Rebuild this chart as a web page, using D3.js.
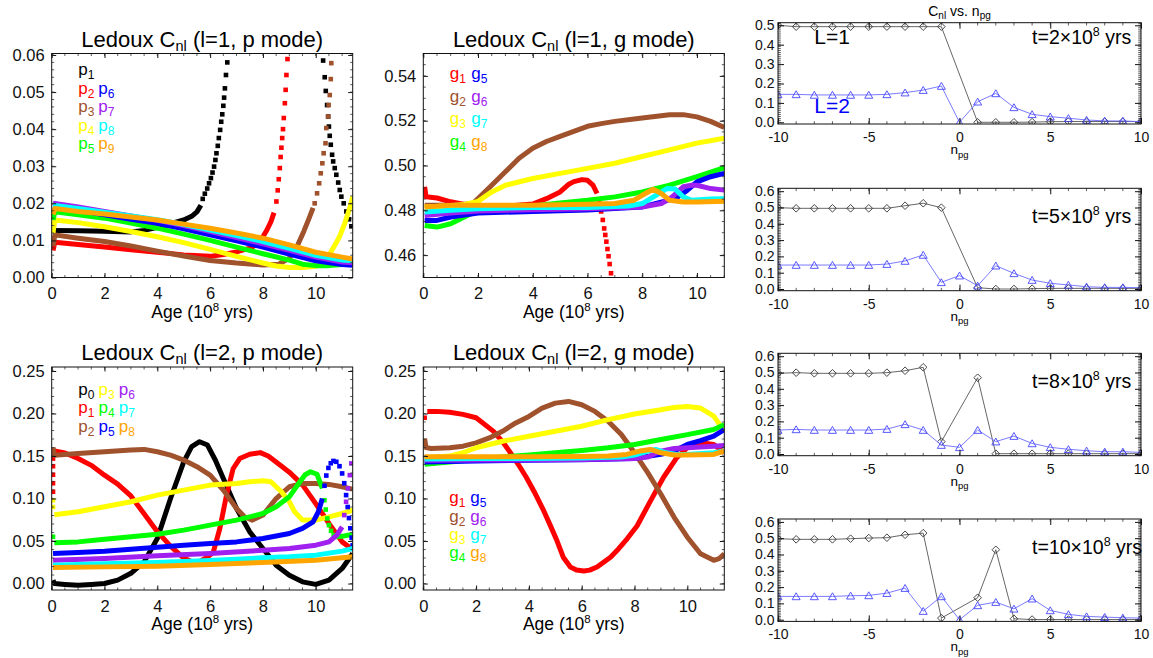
<!DOCTYPE html>
<html>
<head>
<meta charset="utf-8">
<script src="https://cdn.jsdelivr.net/npm/d3@7"></script>
<style>
  body { margin: 0; background: #fff; }
  svg { display: block; font-family: "Liberation Sans", Arial, Helvetica, sans-serif; }
</style>
</head>
<body>
<svg id="fig" width="1153" height="658"></svg>
<script>
// ---------------- tick values ----------------
const ageTicks = [0, 2, 4, 6, 8, 10];
const l1pTicks = [0.00, 0.01, 0.02, 0.03, 0.04, 0.05, 0.06];
const l1gTicks = [0.46, 0.48, 0.50, 0.52, 0.54];
const l2Ticks = [0.00, 0.05, 0.10, 0.15, 0.20, 0.25];
const npgTicks = [-10, -5, 0, 5, 10];
const cTicksFirst = [0.0, 0.1, 0.2, 0.3, 0.4, 0.5];
const cTicks = [0.0, 0.1, 0.2, 0.3, 0.4, 0.5, 0.6];

// ---------------- mode colours ----------------
const colors = {
  black: "#000000", red: "#ff0000", brown: "#a0522d", yellow: "#ffff00",
  green: "#00ff00", blue: "#0000ff", purple: "#a020f0", cyan: "#00ffff", orange: "#ffa500"
};

// ---------------- l=1 p modes: [age (1e8 yr), C_nl] ----------------
const l1p1 = [[0.05,0.0127],[1,0.0126],[2,0.0125],[3,0.0123],[3.5,0.0127],[4,0.0135],[4.5,0.0145],[5,0.0155],[5.3,0.0165],[5.5,0.0177],[5.65,0.0195]];
const l1p1Dots = [[5.72,0.0212],[5.8,0.0226],[5.89,0.0240],[5.96,0.0254],[6.03,0.0268],[6.09,0.0283],[6.15,0.0299],[6.2,0.0317],[6.24,0.0335],[6.29,0.0355],[6.33,0.0376],[6.38,0.0398],[6.42,0.042],[6.46,0.044],[6.5,0.0463],[6.53,0.0485],[6.56,0.051],[6.6,0.0546],[6.65,0.058],
  [10.28,0.0585],[10.34,0.054],[10.38,0.0503],[10.43,0.0465],[10.47,0.0434],[10.5,0.0407],[10.53,0.0382],[10.57,0.0358],[10.62,0.0331],[10.66,0.0313],[10.72,0.0295],[10.78,0.0277],[10.85,0.0256],[10.91,0.0236],[10.97,0.0218],[11.06,0.020],[11.16,0.0178],[11.26,0.0157],[11.35,0.0138]];
const l1p2 = [[0.05,0.0073],[0.12,0.0095],[1,0.0089],[2,0.0082],[3,0.0075],[4,0.0068],[5,0.0061],[6,0.0057],[6.5,0.0062],[7,0.0069],[7.5,0.0079],[7.8,0.009],[8.0,0.011],[8.15,0.0128],[8.3,0.015],[8.42,0.0175]];
const l1p2Dots = [[8.51,0.0205],[8.56,0.0235],[8.6,0.0265],[8.64,0.0295],[8.67,0.0325],[8.7,0.035],[8.73,0.0376],[8.76,0.040],[8.79,0.043],[8.83,0.047],[8.86,0.0506],[8.89,0.0546],[8.93,0.0589]];
const l1p3 = [[0.05,0.0085],[0.12,0.0115],[1,0.0106],[2,0.0097],[3,0.0085],[4,0.0071],[5,0.0058],[6,0.0046],[7,0.0039],[8,0.0034],[8.6,0.0036],[9,0.0052],[9.3,0.0085],[9.55,0.0125],[9.75,0.016],[9.9,0.0188]];
const l1p3Dots = [[9.96,0.020],[10.05,0.0227],[10.13,0.0254],[10.19,0.0281],[10.25,0.0308],[10.3,0.0335],[10.37,0.0362],[10.4,0.0403],[10.47,0.0434],[10.49,0.0465],[10.53,0.0492],[10.57,0.0535],[10.59,0.0578]];
const l1p4 = [[0.05,0.012],[0.12,0.0155],[1,0.0148],[2,0.0137],[3,0.0124],[4,0.011],[5,0.0094],[6,0.0076],[7,0.0057],[8,0.0039],[8.5,0.0031],[9,0.0027],[9.5,0.0027],[10,0.003],[10.3,0.0042],[10.5,0.006],[10.7,0.0084],[10.9,0.011],[11.1,0.0146],[11.3,0.019],[11.4,0.0218]];
const l1p5 = [[0.05,0.0155],[0.12,0.0177],[1,0.0169],[2,0.016],[3,0.0147],[4,0.0133],[5,0.0117],[6,0.010],[7,0.0082],[8,0.0064],[9,0.0047],[9.5,0.0036],[10,0.0032],[10.5,0.0032],[11,0.0035],[11.4,0.0046]];
const l1p6 = [[0.05,0.0192],[1,0.0181],[2,0.0169],[3,0.0157],[4,0.0146],[5,0.0131],[6,0.0115],[7,0.0099],[8,0.0082],[9,0.0063],[10,0.0045],[11,0.0035],[11.4,0.0033]];
const l1p7 = [[0.05,0.0200],[1,0.019],[2,0.0178],[3,0.0166],[4,0.0154],[5,0.014],[6,0.0124],[7,0.0108],[8,0.0091],[9,0.0073],[10,0.0055],[11,0.0042],[11.4,0.004]];
const l1p8 = [[0.05,0.0195],[1,0.0186],[2,0.0176],[3,0.0166],[4,0.0156],[5,0.0143],[6,0.0128],[7,0.0113],[8,0.0097],[9,0.0079],[10,0.006],[11,0.0047],[11.4,0.0045]];
const l1p9 = [[0.05,0.017],[0.12,0.0186],[1,0.0178],[2,0.0171],[3,0.0163],[4,0.0155],[5,0.0144],[6,0.0133],[7,0.012],[8,0.0106],[9,0.0088],[10,0.0068],[11,0.0055],[11.4,0.005]];

// ---------------- l=1 g modes ----------------
const l1g1 = [[0.05,0.4905],[0.1,0.486],[0.5,0.4855],[1,0.4838],[1.5,0.4826],[2,0.482],[3,0.4818],[4,0.4828],[4.5,0.4852],[5,0.4882],[5.3,0.4915],[5.5,0.4928],[5.8,0.4937],[6,0.4934],[6.2,0.4912],[6.35,0.4875]];
const l1g1Dots = [[6.42,0.4835],[6.5,0.4795],[6.56,0.4757],[6.61,0.4719],[6.65,0.469],[6.69,0.466],[6.73,0.4627],[6.77,0.4595],[6.81,0.456],[6.86,0.4519]];
const l1g2 = [[0.05,0.4823],[1,0.4822],[1.8,0.483],[2,0.4852],[2.5,0.4912],[3,0.4972],[3.5,0.5032],[4,0.5077],[4.5,0.5107],[5,0.513],[5.5,0.5152],[6,0.5175],[6.5,0.5187],[7,0.5197],[8,0.5212],[9,0.5227],[9.5,0.5227],[10,0.5217],[10.5,0.5197],[11,0.517]];
const l1g3 = [[0.05,0.4815],[1,0.482],[1.5,0.4826],[2,0.484],[2.5,0.4882],[3,0.4912],[4,0.4942],[5,0.4965],[6,0.4987],[7,0.501],[8,0.504],[9,0.507],[10,0.510],[11,0.5122]];
const l1g4 = [[0.05,0.4732],[0.5,0.4725],[1,0.474],[1.5,0.477],[2,0.480],[3,0.4812],[4,0.4819],[5,0.4833],[6,0.4845],[7,0.486],[8,0.4882],[9,0.4912],[10,0.495],[11,0.499]];
const l1g5 = [[0.05,0.4755],[0.5,0.4755],[1,0.477],[2,0.4788],[4,0.4795],[6,0.4801],[8,0.4815],[8.8,0.484],[9.3,0.486],[9.6,0.4885],[10,0.4927],[10.5,0.495],[11,0.4965]];
const l1g6 = [[0.05,0.4777],[1,0.4788],[2,0.4797],[4,0.4803],[6,0.4807],[8,0.4815],[8.7,0.483],[9.1,0.486],[9.5,0.4905],[9.8,0.4912],[10,0.4912],[10.5,0.4897],[11,0.489]];
const l1g7 = [[0.05,0.4792],[1,0.480],[2,0.4807],[4,0.4812],[6,0.4812],[7.5,0.4819],[8,0.483],[8.5,0.4867],[8.9,0.4897],[9.2,0.4895],[9.5,0.486],[9.8,0.4845],[10.5,0.485],[11,0.4852]];
const l1g8 = [[0.05,0.4815],[1,0.4822],[2,0.4822],[4,0.4822],[6,0.4827],[7,0.483],[7.7,0.4845],[8,0.4867],[8.4,0.4894],[8.7,0.4875],[9,0.4845],[9.5,0.4837],[10,0.4837],[11,0.484]];

// ---------------- l=2 p modes ----------------
const l2p0 = [[0.05,0.004],[0.1,0.0],[0.5,-0.001],[1,-0.002],[1.5,-0.001],[2,0.0],[2.5,0.004],[3,0.012],[3.5,0.0255],[4,0.053],[4.5,0.100],[5,0.143],[5.3,0.161],[5.6,0.1668],[5.9,0.1629],[6.2,0.145],[6.5,0.1236],[7,0.0883],[7.5,0.0608],[8,0.0412],[8.5,0.0216],[9,0.0098],[9.5,0.002],[10,-0.001],[10.5,0.0039],[11,0.0177],[11.4,0.0353]];
const l2p1 = [[0.1,0.156],[0.5,0.1535],[1,0.147],[1.5,0.139],[2,0.1275],[2.5,0.117],[3,0.103],[3.5,0.082],[4,0.061],[4.5,0.044],[5,0.030],[5.3,0.026],[5.6,0.026],[5.9,0.031],[6.12,0.037],[6.37,0.065],[6.62,0.104],[6.87,0.135],[7.12,0.147],[7.5,0.152],[7.9,0.154],[8.2,0.150],[8.5,0.143],[9,0.131],[9.5,0.116],[10,0.094],[10.5,0.0707],[11,0.049],[11.4,0.040]];
const l2p1Dots = [[0.05,0.108],[0.05,0.118],[0.05,0.128],[0.05,0.138],[0.05,0.147]];
const l2p2 = [[0.05,0.160],[0.1,0.151],[1,0.153],[2,0.155],[3,0.157],[3.5,0.1578],[4,0.155],[4.5,0.151],[5,0.1452],[5.5,0.1374],[6,0.1275],[6.5,0.1099],[7,0.0883],[7.3,0.0785],[7.6,0.0746],[8,0.0805],[8.5,0.100],[9,0.1138],[9.5,0.1177],[10,0.1177],[10.5,0.1166],[11,0.1138],[11.4,0.111]];
const l2p3 = [[0.1,0.081],[1,0.0844],[2,0.0903],[3,0.0962],[4,0.104],[5,0.1099],[6,0.1158],[7,0.1177],[7.5,0.1197],[8,0.1209],[8.3,0.1197],[8.7,0.1079],[9,0.0962],[9.2,0.0844],[9.5,0.0746],[10,0.0746],[10.5,0.0785],[11,0.0824],[11.4,0.0863]];
const l2p3Dots = [[0.05,0.098],[0.05,0.090]];
const l2p4 = [[0.1,0.048],[1,0.049],[2,0.0522],[3,0.055],[4,0.058],[5,0.0628],[6,0.0687],[7,0.0746],[8,0.0824],[8.5,0.0903],[9,0.102],[9.4,0.1197],[9.6,0.128],[9.8,0.1315],[10.05,0.1285],[10.25,0.112], null, [10.75,0.055],[11,0.0555],[11.4,0.058]];
const l2p4Dots = [[0.05,0.055],[10.33,0.098],[10.38,0.087],[10.44,0.0765],[10.5,0.0687],[10.58,0.062],[10.68,0.057]];
const l2p5 = [[0.05,0.0353],[1,0.0365],[2,0.0381],[3,0.0404],[4,0.0428],[5,0.0451],[6,0.0471],[7,0.049],[8,0.053],[9,0.0589],[9.5,0.0648],[9.9,0.0726],[10.1,0.0844],[10.25,0.100]];
const l2p5Dots = [[10.33,0.115],[10.4,0.127],[10.48,0.136],[10.57,0.1415],[10.67,0.1442],[10.78,0.1432],[10.9,0.138],[11.0,0.1295],[11.08,0.118],[11.15,0.104],[11.21,0.090],[11.26,0.077],[11.31,0.065],[11.36,0.054],[11.4,0.045]];
const l2p6 = [[0.05,0.0275],[2,0.0294],[4,0.0326],[6,0.0353],[8,0.0392],[9,0.0412],[10,0.0451],[10.5,0.049],[10.8,0.0569],[11,0.0667]];
const l2p6Dots = [[11.08,0.0805],[11.15,0.0962],[11.22,0.1119],[11.29,0.1275],[11.35,0.1413]];
const l2p7 = [[0.05,0.0216],[2,0.0232],[4,0.0247],[6,0.0271],[8,0.0302],[9,0.0314],[10,0.0334],[11,0.0381],[11.4,0.0412]];
const l2p8 = [[0.05,0.0188],[2,0.0196],[4,0.0204],[6,0.0224],[8,0.0247],[10,0.0275],[11.4,0.0314]];

// ---------------- l=2 g modes ----------------
const l2g1 = [[0.15,0.2025],[0.5,0.2025],[1,0.2015],[1.5,0.199],[2,0.195],[2.66,0.179],[3,0.167],[3.3,0.1538],[3.6,0.140],[3.9,0.125],[4.2,0.108],[4.56,0.0857],[4.8,0.069],[5.06,0.0506],[5.3,0.031],[5.57,0.0195],[5.8,0.016],[6.08,0.0148],[6.3,0.0158],[6.58,0.0195],[7.09,0.031],[7.4,0.041],[7.72,0.0526],[8.1,0.068],[8.6,0.097],[9.1,0.125],[9.6,0.148],[10,0.1597],[10.5,0.1655],[11,0.1636],[11.4,0.1538]];
const l2g1Dots = [[0.05,0.195]];
const l2g2 = [[0.05,0.1705],[0.1,0.160],[0.3,0.1589],[1,0.1597],[1.5,0.1616],[2,0.1655],[2.5,0.1713],[3,0.1791],[3.5,0.1889],[4,0.1966],[4.5,0.2064],[5,0.2122],[5.5,0.2142],[6,0.2103],[6.5,0.2025],[7,0.1908],[7.5,0.1752],[8,0.1538],[8.5,0.1305],[9,0.1051],[9.5,0.0779],[10,0.0545],[10.5,0.035],[11,0.0273],[11.2,0.0292],[11.4,0.035]];
const l2g3 = [[0.05,0.148],[1,0.1499],[1.5,0.1538],[2,0.1597],[3,0.1674],[4,0.1733],[5,0.1791],[6,0.185],[7,0.1928],[8,0.1994],[9,0.2044],[9.5,0.2072],[10,0.2083],[10.5,0.2064],[11,0.197],[11.4,0.179]];
const l2g4 = [[0.05,0.1402],[1,0.1429],[2,0.146],[3,0.1488],[4,0.1511],[5,0.1538],[6,0.1565],[7,0.1597],[8,0.1636],[9,0.1694],[10,0.1752],[11,0.1811],[11.4,0.1869]];
const l2g5 = [[0.05,0.143],[2,0.1441],[4,0.1449],[6,0.1456],[8,0.1472],[9,0.1519],[9.5,0.1558],[10,0.1636],[10.5,0.1682],[11,0.1733],[11.4,0.1811]];
const l2g6 = [[0.05,0.145],[2,0.1452],[4,0.1456],[6,0.146],[8,0.1472],[8.5,0.1488],[9,0.1558],[9.5,0.1589],[10,0.1597],[11,0.1616],[11.4,0.1624]];
const l2g7 = [[0.05,0.1465],[2,0.1472],[4,0.1472],[6,0.1476],[7.5,0.1488],[8,0.1511],[8.5,0.1558],[8.8,0.1577],[9.2,0.1538],[9.6,0.1519],[10,0.1519],[11,0.1538],[11.4,0.1558]];
const l2g8 = [[0.05,0.149],[2,0.149],[4,0.149],[6,0.1495],[7,0.1499],[7.7,0.1519],[8.2,0.1558],[8.6,0.1577],[9,0.1538],[9.5,0.1511],[10,0.1511],[11,0.1519],[11.4,0.1558]];

// ---------------- C_nl against n_pg at four ages ----------------
const npgL1 = [-10,-9,-8,-7,-6,-5,-4,-3,-2,-1,1,2,3,4,5,6,7,8,9,10];
const npgL2 = [-10,-9,-8,-7,-6,-5,-4,-3,-2,-1,0,1,2,3,4,5,6,7,8,9,10];
const cL1_t2  = [0.500,0.493,0.493,0.493,0.493,0.493,0.493,0.493,0.493,0.493, 0.000,0.000,0.000,0.001,0.003,0.004,0.004,0.004,0.004,0.004];
const cL2_t2  = [0.144,0.144,0.141,0.141,0.141,0.141,0.144,0.153,0.166,0.187, 0.000, 0.106,0.149,0.077,0.041,0.029,0.021,0.012,0.007,0.007,0.003];
const cL1_t5  = [0.499,0.495,0.495,0.495,0.495,0.495,0.495,0.511,0.526,0.499, 0.008,0.000,0.000,0.002,0.004,0.004,0.004,0.004,0.004,0.004];
const cL2_t5  = [0.147,0.147,0.147,0.147,0.147,0.147,0.153,0.172,0.209,0.041, 0.082, 0.020,0.143,0.096,0.055,0.035,0.025,0.014,0.010,0.010,0.008];
const cL1_t8  = [0.495,0.499,0.495,0.495,0.495,0.495,0.499,0.511,0.532,0.076, 0.468,0.002,0.002,0.002,0.002,0.002,0.002,0.002,0.002,0.002];
const cL2_t8  = [0.147,0.151,0.147,0.147,0.147,0.147,0.153,0.182,0.147,0.055, 0.041, 0.147,0.076,0.110,0.065,0.041,0.029,0.020,0.014,0.014,0.010];
const cL1_t10 = [0.497,0.493,0.493,0.493,0.497,0.501,0.503,0.521,0.531,0.010, 0.135,0.429,0.006,0.001,0.001,0.001,0.001,0.001,0.001,0.001];
const cL2_t10 = [0.143,0.143,0.143,0.143,0.147,0.149,0.163,0.194,0.053,0.143, 0.000, 0.088,0.108,0.067,0.129,0.057,0.033,0.020,0.016,0.012,0.010];
const snapshotAges = [2, 5, 8, 10];

// ---------------- drawing ----------------
const svg = d3.select("#fig");
const defs = svg.append("defs");
let clipCount = 0;

function addClip(box) {
  const id = "clip" + (clipCount++);
  defs.append("clipPath").attr("id", id).append("rect")
    .attr("x", box.left).attr("y", box.top)
    .attr("width", box.right - box.left).attr("height", box.bottom - box.top);
  return id;
}

// IDL-style frame: inward ticks on all four sides, minor ticks between.
function drawFrame(g, x, y, box, opt) {
  const style = sel => {
    sel.select(".domain").remove();
    sel.attr("font-family", null).attr("font-size", opt.fontSize).attr("color", "#111");
    sel.selectAll(".tick line").attr("stroke-width", 1);
  };
  const minors = (scale, step) => {
    const [a, b] = scale.domain();
    const start = Math.ceil(Math.min(a, b) / step - 1e-6) * step;
    return d3.range(start, Math.max(a, b) + 1e-9, step).map(v => +v.toFixed(6));
  };
  const xMin = minors(x, opt.xMinor), yMin = minors(y, opt.yMinor);

  g.append("g").attr("transform", `translate(0,${box.bottom})`)
    .call(d3.axisBottom(x).tickValues(opt.xTicks).tickSizeInner(-opt.major).tickSizeOuter(0)
      .tickPadding(opt.xPad).tickFormat(opt.xFmt)).call(style);
  g.append("g").attr("transform", `translate(0,${box.top})`)
    .call(d3.axisTop(x).tickValues(opt.xTicks).tickSizeInner(-opt.major).tickSizeOuter(0).tickFormat("")).call(style);
  g.append("g").attr("transform", `translate(${box.left},0)`)
    .call(d3.axisLeft(y).tickValues(opt.yTicks).tickSizeInner(-opt.major).tickSizeOuter(0)
      .tickPadding(opt.yPad).tickFormat(opt.yFmt)).call(style);
  g.append("g").attr("transform", `translate(${box.right},0)`)
    .call(d3.axisRight(y).tickValues(opt.yTicks).tickSizeInner(-opt.major).tickSizeOuter(0).tickFormat("")).call(style);

  const mg = g.append("g").attr("stroke", "#333").attr("stroke-width", 0.8);
  xMin.forEach(v => {
    const px = x(v);
    mg.append("line").attr("x1", px).attr("x2", px).attr("y1", box.bottom).attr("y2", box.bottom - opt.minor);
    mg.append("line").attr("x1", px).attr("x2", px).attr("y1", box.top).attr("y2", box.top + opt.minor);
  });
  yMin.forEach(v => {
    const py = y(v);
    mg.append("line").attr("y1", py).attr("y2", py).attr("x1", box.left).attr("x2", box.left + opt.minor);
    mg.append("line").attr("y1", py).attr("y2", py).attr("x1", box.right).attr("x2", box.right - opt.minor);
  });
  g.append("rect").attr("x", box.left).attr("y", box.top)
    .attr("width", box.right - box.left).attr("height", box.bottom - box.top)
    .attr("fill", "none").attr("stroke", "#111").attr("stroke-width", 1);
}

function evolutionPanel(cfg) {
  const { box } = cfg;
  const x = d3.scaleLinear().domain(cfg.xDomain).range([box.left, box.right]);
  const y = d3.scaleLinear().domain(cfg.yDomain).range([box.bottom, box.top]);
  const g = svg.append("g");
  const plot = g.append("g").attr("clip-path", `url(#${addClip(box)})`);
  const line = d3.line().defined(d => d != null).x(d => x(d[0])).y(d => y(d[1]));

  cfg.series.forEach(s => {
    plot.append("path").datum(s.track).attr("d", line)
      .attr("fill", "none").attr("stroke", s.color).attr("stroke-width", 5)
      .attr("stroke-linejoin", "round");
    if (s.dots) {
      plot.append("g").selectAll("rect").data(s.dots).join("rect")
        .attr("x", d => x(d[0]) - 2.3).attr("y", d => y(d[1]) - 2.3)
        .attr("width", 4.6).attr("height", 4.6).attr("fill", s.color);
    }
  });

  drawFrame(g, x, y, box, {
    xTicks: ageTicks, yTicks: cfg.yTicks, xMinor: 0.5, yMinor: cfg.yMinor,
    xFmt: d => d, yFmt: d3.format(".2f"), fontSize: 16.5,
    major: 4.5, minor: 2.5, xPad: 10, yPad: 7
  });

  // title
  const cx = (box.left + box.right) / 2;
  const t = g.append("text").attr("x", cx).attr("y", box.top - 7)
    .attr("text-anchor", "middle").attr("font-size", 22).attr("fill", "#000");
  t.append("tspan").text("Ledoux C");
  t.append("tspan").attr("dy", 4).attr("font-size", 14.5).text("nl");
  t.append("tspan").attr("dy", -4).text(cfg.title);

  // x axis title
  const a = g.append("text").attr("x", cx).attr("y", box.bottom + 40)
    .attr("text-anchor", "middle").attr("font-size", 17.5).attr("fill", "#000");
  a.append("tspan").text("Age (10");
  a.append("tspan").attr("dy", -7).attr("font-size", 11.5).text("8");
  a.append("tspan").attr("dy", 7).text(" yrs)");

  // legend: rows of mode labels, coloured by mode
  const L = cfg.legend;
  const byN = new Map(cfg.series.map(s => [s.n, s]));
  L.rows.forEach((row, ri) => {
    row.forEach((n, ci) => {
      if (n == null) return;
      const s = byN.get(n);
      const tx = g.append("text")
        .attr("x", box.left + L.dx + ci * L.colStep)
        .attr("y", box.top + L.dy + ri * L.rowStep)
        .attr("font-size", 17).attr("fill", s.color);
      tx.append("tspan").text(cfg.letter);
      tx.append("tspan").attr("dy", 4).attr("font-size", 12).text(n);
    });
  });
}

function series(letterColors, nums, tracks, dots) {
  return nums.map((n, i) => ({ n, color: colors[letterColors[i]], track: tracks[i], dots: dots[i] }));
}
const order9 = ["black","red","brown","yellow","green","blue","purple","cyan","orange"];
const order8 = ["red","brown","yellow","green","blue","purple","cyan","orange"];

evolutionPanel({
  box: { left: 51.7, right: 352.7, top: 53.5, bottom: 277.5 },
  xDomain: [0, 11.4], yDomain: [0, 0.0604], yTicks: l1pTicks, yMinor: 0.002,
  title: " (l=1, p mode)", letter: "p",
  series: series(order9, [1,2,3,4,5,6,7,8,9],
    [l1p1,l1p2,l1p3,l1p4,l1p5,l1p6,l1p7,l1p8,l1p9],
    [l1p1Dots,l1p2Dots,l1p3Dots,null,null,null,null,null,null]),
  legend: { dx: 26.5, dy: 21.5, colStep: 20, rowStep: 18.6, rows: [[1],[2,6],[3,7],[4,8],[5,9]] }
});

evolutionPanel({
  box: { left: 423.3, right: 724.3, top: 53.5, bottom: 277.5 },
  xDomain: [0, 11], yDomain: [0.45, 0.55], yTicks: l1gTicks, yMinor: 0.005,
  title: " (l=1, g mode)", letter: "g",
  series: series(order8, [1,2,3,4,5,6,7,8],
    [l1g1,l1g2,l1g3,l1g4,l1g5,l1g6,l1g7,l1g8],
    [l1g1Dots,null,null,null,null,null,null,null]),
  legend: { dx: 26.5, dy: 25.5, colStep: 21.5, rowStep: 22.7, rows: [[1,5],[2,6],[3,7],[4,8]] }
});

evolutionPanel({
  box: { left: 51.7, right: 352.7, top: 367, bottom: 590 },
  xDomain: [0, 11.4], yDomain: [-0.0076, 0.2547], yTicks: l2Ticks, yMinor: 0.01,
  title: " (l=2, p mode)", letter: "p",
  series: series(order9, [0,1,2,3,4,5,6,7,8],
    [l2p0,l2p1,l2p2,l2p3,l2p4,l2p5,l2p6,l2p7,l2p8],
    [null,l2p1Dots,null,l2p3Dots,l2p4Dots,l2p5Dots,l2p6Dots,null,null]),
  legend: { dx: 26.5, dy: 28, colStep: 20.3, rowStep: 18.3, rows: [[0,3,6],[1,4,7],[2,5,8]] }
});

evolutionPanel({
  box: { left: 423.3, right: 724.3, top: 367, bottom: 590 },
  xDomain: [0, 11.4], yDomain: [-0.0076, 0.2547], yTicks: l2Ticks, yMinor: 0.01,
  title: " (l=2, g mode)", letter: "g",
  series: series(order8, [1,2,3,4,5,6,7,8],
    [l2g1,l2g2,l2g3,l2g4,l2g5,l2g6,l2g7,l2g8],
    [l2g1Dots,null,null,null,null,null,null,null]),
  legend: { dx: 26, dy: 136.3, colStep: 21, rowStep: 18.3, rows: [[1,5],[2,6],[3,7],[4,8]] }
});

// ---------------- C_nl vs n_pg panels ----------------
function npgPanel(cfg) {
  const { box } = cfg;
  const x = d3.scaleLinear().domain([-10, 10]).range([box.left, box.right]);
  const y = d3.scaleLinear().domain(cfg.yDomain).range([box.bottom, box.top]);
  const g = svg.append("g");
  const plot = g.append("g").attr("clip-path", `url(#${addClip(box)})`);
  const line = d3.line().x(d => x(d[0])).y(d => y(d[1]));
  const pts1 = npgL1.map((n, i) => [n, cfg.l1[i]]);
  const pts2 = npgL2.map((n, i) => [n, cfg.l2[i]]);

  plot.append("path").datum(pts1).attr("d", line).attr("fill", "none")
    .attr("stroke", "#555").attr("stroke-width", 0.9);
  plot.append("g").selectAll("path").data(pts1).join("path")
    .attr("d", d => { const cx = x(d[0]), cy = y(d[1]); return `M${cx},${cy-3.8}L${cx+3.8},${cy}L${cx},${cy+3.8}L${cx-3.8},${cy}Z`; })
    .attr("fill", "none").attr("stroke", "#333").attr("stroke-width", 0.9);

  plot.append("path").datum(pts2).attr("d", line).attr("fill", "none")
    .attr("stroke", "#6b6bff").attr("stroke-width", 0.9);
  plot.append("g").selectAll("path").data(pts2).join("path")
    .attr("d", d => { const cx = x(d[0]), cy = y(d[1]); return `M${cx-4},${cy+3.3}L${cx},${cy-3.6}L${cx+4},${cy+3.3}Z`; })
    .attr("fill", "none").attr("stroke", "#4545ff").attr("stroke-width", 0.9);

  drawFrame(g, x, y, box, {
    xTicks: npgTicks, yTicks: cfg.yTicks, xMinor: 1, yMinor: 0.01,
    xFmt: d => String(d), yFmt: d3.format(".1f"), fontSize: 14,
    major: 6, minor: 2.8, xPad: 8, yPad: 3.5
  });

  const cx = (box.left + box.right) / 2;
  const n = g.append("text").attr("x", cx).attr("y", box.bottom + 30)
    .attr("text-anchor", "middle").attr("font-size", 13.5).attr("fill", "#000");
  n.append("tspan").text("n");
  n.append("tspan").attr("dy", 3.5).attr("font-size", 9.5).text("pg");

  const t = g.append("text").attr("x", x(4)).attr("y", y(0.405))
    .attr("font-size", 19.5).attr("fill", "#000");
  t.append("tspan").text(`t=${cfg.age}×10`);
  t.append("tspan").attr("dy", -8).attr("font-size", 12.5).text("8");
  t.append("tspan").attr("dy", 8).text(" yrs");

  if (cfg.labels) {
    g.append("text").attr("x", x(-8)).attr("y", y(0.405)).attr("font-size", 21)
      .attr("fill", "#000").text("L=1");
    g.append("text").attr("x", x(-8)).attr("y", y(0.046)).attr("font-size", 21)
      .attr("fill", "#0000ff").text("L=2");
    const h = g.append("text").attr("x", cx).attr("y", 16).attr("text-anchor", "middle")
      .attr("font-size", 14).attr("fill", "#000");
    h.append("tspan").text("C");
    h.append("tspan").attr("dy", 3).attr("font-size", 10).text("nl");
    h.append("tspan").attr("dy", -3).text(" vs. n");
    h.append("tspan").attr("dy", 3).attr("font-size", 10).text("pg");
  }
}

const rightX = { left: 778, right: 1141 };
npgPanel({ box: { ...rightX, top: 22.7, bottom: 124 }, yDomain: [-0.0088, 0.5134], yTicks: cTicksFirst,
  l1: cL1_t2, l2: cL2_t2, age: snapshotAges[0], labels: true });
npgPanel({ box: { ...rightX, top: 188.3, bottom: 290.7 }, yDomain: [-0.0104, 0.6178], yTicks: cTicks,
  l1: cL1_t5, l2: cL2_t5, age: snapshotAges[1] });
npgPanel({ box: { ...rightX, top: 353.3, bottom: 455.7 }, yDomain: [-0.0104, 0.6178], yTicks: cTicks,
  l1: cL1_t8, l2: cL2_t8, age: snapshotAges[2] });
npgPanel({ box: { ...rightX, top: 519, bottom: 621.4 }, yDomain: [-0.0104, 0.6178], yTicks: cTicks,
  l1: cL1_t10, l2: cL2_t10, age: snapshotAges[3] });
</script>
</body>
</html>
